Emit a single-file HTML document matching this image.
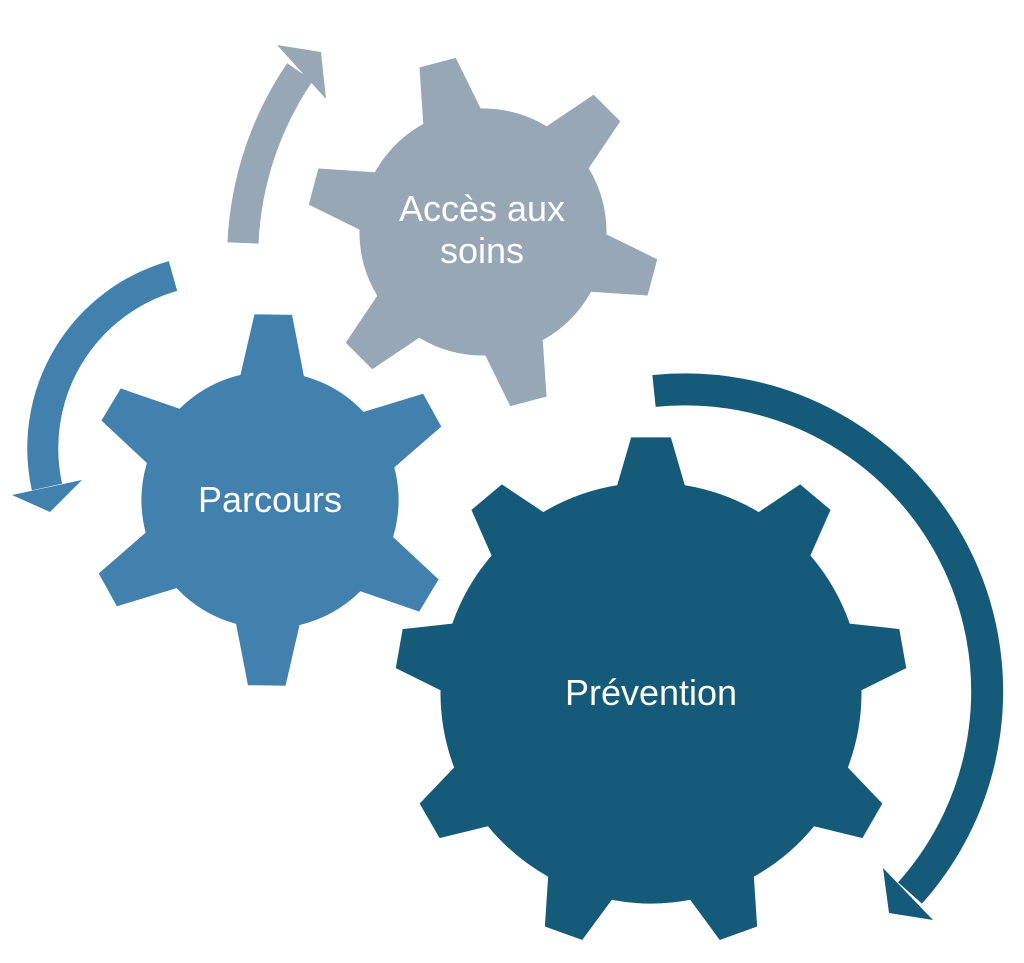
<!DOCTYPE html>
<html><head><meta charset="utf-8"><style>
html,body{margin:0;padding:0;background:#fff;}
svg{display:block;}
text{font-family:"Liberation Sans",sans-serif;fill:#fff;font-size:36px;text-anchor:middle;}
</style></head><body>
<svg id="s" width="1024" height="963" viewBox="0 0 1024 963" xmlns="http://www.w3.org/2000/svg">
<path id="g1" fill="#97a7b5" stroke="#fff" stroke-width="3" stroke-linejoin="miter"/>
<path id="g2" fill="#4281ad" stroke="#fff" stroke-width="3"/>
<path id="g3" fill="#155a79" stroke="#fff" stroke-width="3"/>
<!-- gray arrow -->
<path d="M243,243 A330,330 0 0 1 300,72" fill="none" stroke="#97a7b5" stroke-width="31"/>
<polygon points="277,45 321,52 326,99" fill="#97a7b5"/>
<!-- blue arrow -->
<path d="M173,276 A179,179 0 0 0 47,487" fill="none" stroke="#4281ad" stroke-width="31"/>
<polygon points="12,495 82,480 50,512" fill="#4281ad"/>
<!-- big arrow -->
<path d="M654,391 A302,302 0 0 1 910,893" fill="none" stroke="#155a79" stroke-width="32"/>
<polygon points="883,868 933,920 889,913" fill="#155a79"/>
<text x="482" y="221">Accès aux</text>
<text x="482" y="263">soins</text>
<text x="270" y="512">Parcours</text>
<text x="651" y="705">Prévention</text>
</svg>
<script>
function gear(cx,cy,rb,rt,n,rot,wb,wt){
  var ab=Math.asin(wb/rb), at=Math.asin(wt/rt), d="";
  function P(r,a){return (cx+r*Math.sin(a)).toFixed(1)+","+(cy-r*Math.cos(a)).toFixed(1);}
  for(var i=0;i<n;i++){
    var th=rot*Math.PI/180+i*2*Math.PI/n;
    if(i==0) d+="M"+P(rb,th-ab);
    else d+=" A"+rb+","+rb+" 0 0 1 "+P(rb,th-ab);
    d+=" L"+P(rt,th-at)+" L"+P(rt,th+at)+" L"+P(rb,th+ab);
  }
  var th0=rot*Math.PI/180;
  d+=" A"+rb+","+rb+" 0 0 1 "+P(rb,th0-ab)+" Z";
  return d;
}
document.getElementById("g1").setAttribute("d",gear(483,232,125,178,6,-15,31,20));
document.getElementById("g2").setAttribute("d",gear(270,500,130,188,6,1,33,20));
document.getElementById("g3").setAttribute("d",gear(651,693,212,258,9,0,35,21));
</script>
</body></html>
